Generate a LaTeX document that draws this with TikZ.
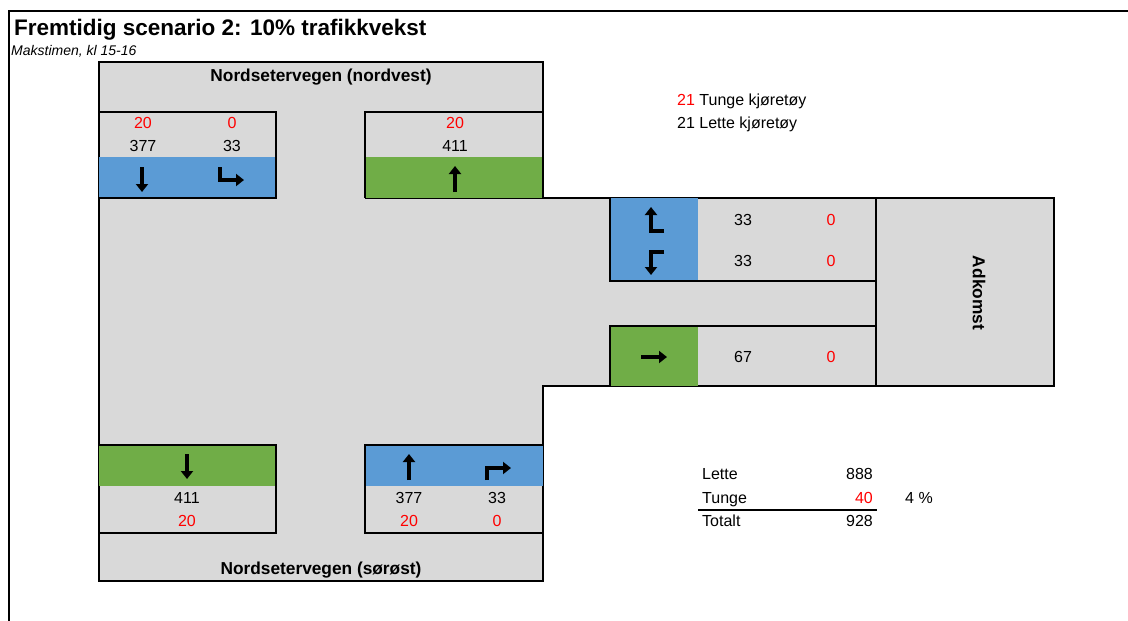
\documentclass[tikz,border=0pt]{standalone}
\usepackage{fontspec}
\setmainfont{Liberation Sans}
\usetikzlibrary{arrows.meta}
\definecolor{roadgray}{HTML}{D9D9D9}
\definecolor{laneblue}{HTML}{5B9BD5}
\definecolor{lanegreen}{HTML}{70AD47}
\definecolor{heavyred}{HTML}{FF0000}
\tikzset{
  edge/.style={draw=black, line width=1.6pt},
  txt/.style={font=\fontsize{16}{18}\selectfont, inner sep=0pt},
  num/.style={txt, anchor=center},
  heavy/.style={num, text=heavyred},
  roadname/.style={font=\fontsize{17.3}{19}\selectfont\bfseries, inner sep=0pt},
  dirarrow/.style={line width=3.6pt, -{Triangle[length=8pt,width=12pt]}},
  turnarrow/.style={line width=3.6pt, -{Triangle[length=8pt,width=12pt]}, line join=miter}
}
\begin{document}
\begin{tikzpicture}[x=1pt,y=-1pt]
\useasboundingbox (0,0) rectangle (1128,621);
\fill[white] (0,0) rectangle (1128,621);

% outer frame
\draw[line width=1.3pt] (9,621) -- (9,11) -- (1128,11);

% headings
\node[anchor=base west, inner sep=0pt, font=\fontsize{22.5}{24}\selectfont\bfseries] (title) at (14,35) {Fremtidig scenario 2: 10\% trafikkvekst};
\node[anchor=base west, inner sep=0pt, font=\fontsize{14}{15}\selectfont\itshape] (sub) at (11,55) {Makstimen, kl 15-16};

% road surface
\fill[roadgray] (99,62) -- (543,62) -- (543,198) -- (1054,198) -- (1054,386) -- (543,386) -- (543,581) -- (99,581) -- cycle;
\draw[edge] (543,112) -- (543,62) -- (99,62) -- (99,581) -- (543,581) -- (543,386) -- (1054,386) -- (1054,198) -- (365,198);
\draw[edge] (876,198) -- (876,386);

% lane colour bands
\fill[laneblue] (99,157) rectangle (276,198);
\fill[lanegreen] (365,157) rectangle (543,198);
\fill[laneblue] (610,198) rectangle (698,281);
\fill[lanegreen] (610,326) rectangle (698,386);
\fill[lanegreen] (99,445) rectangle (276,486);
\fill[laneblue] (365,445) rectangle (543,486);

% lane boxes
\draw[edge] (99,112) -- (276,112) -- (276,198) -- (99,198);
\draw[edge] (365,198) -- (365,112) -- (543,112) -- (543,198);
\draw[edge] (610,198) -- (610,281) -- (876,281);
\draw[edge] (876,326) -- (610,326) -- (610,386);
\draw[edge] (99,445) -- (276,445) -- (276,533) -- (99,533);
\draw[edge] (543,445) -- (365,445) -- (365,533) -- (543,533);

% road names
\node[roadname] (nw) at (321,77) {Nordsetervegen (nordvest)};
\node[roadname] (se) at (321,570) {Nordsetervegen (sørøst)};
\node[roadname, rotate=-90] (adk) at (979,293) {Adkomst};

% north-west approach counts
\node[heavy] (nwh1) at (143,123) {20};
\node[heavy] (nwh2) at (232,123) {0};
\node[num] (nwl1) at (143,146) {377};
\node[num] (nwl2) at (232,146) {33};
\node[heavy] (nwoh) at (455,123) {20};
\node[num] (nwol) at (455,146) {411};

% access road counts
\node[num] (al1) at (743,220) {33};
\node[heavy] (ah1) at (831,220) {0};
\node[num] (al2) at (743,261) {33};
\node[heavy] (ah2) at (831,261) {0};
\node[num] (aol) at (743,357) {67};
\node[heavy] (aoh) at (831,357) {0};

% south-east approach counts
\node[num] (sel) at (187,498) {411};
\node[heavy] (seh) at (187,521) {20};
\node[num] (sil1) at (409,498) {377};
\node[num] (sil2) at (497,498) {33};
\node[heavy] (sih1) at (409,521) {20};
\node[heavy] (sih2) at (497,521) {0};

% movement arrows
\draw[dirarrow] (142,167) -- (142,192);
\draw[turnarrow] (220,167) -- (220,180) -- (244,180);
\draw[dirarrow] (455,192) -- (455,166);
\draw[turnarrow] (664,231) -- (651,231) -- (651,207);
\draw[turnarrow] (664,252) -- (651,252) -- (651,275);
\draw[dirarrow] (641,357) -- (667,357);
\draw[dirarrow] (187,454) -- (187,479);
\draw[dirarrow] (409,480) -- (409,454);
\draw[turnarrow] (487,480) -- (487,468) -- (511,468);

% legend
\node[txt, anchor=base west] (leg1) at (677,105) {\textcolor{heavyred}{21} Tunge kjøretøy};
\node[txt, anchor=base west] (leg2) at (677,128) {21 Lette kjøretøy};

% totals
\node[txt, anchor=base west] (tl) at (702,479) {Lette};
\node[txt, anchor=base east] (tlv) at (873,479) {888};
\node[txt, anchor=base west] (tt) at (702,503) {Tunge};
\node[txt, anchor=base east, text=heavyred] (ttv) at (873,503) {40};
\node[txt, anchor=base west] (tp) at (905,503) {4 \%};
\node[txt, anchor=base west] (ts) at (702,526) {Totalt};
\node[txt, anchor=base east] (tsv) at (873,526) {928};
\coordinate (ruleL) at (698,510);
\coordinate (ruleR) at (877,510);
\draw[line width=1.3pt] (ruleL) -- (ruleR);
\end{tikzpicture}
\end{document}
